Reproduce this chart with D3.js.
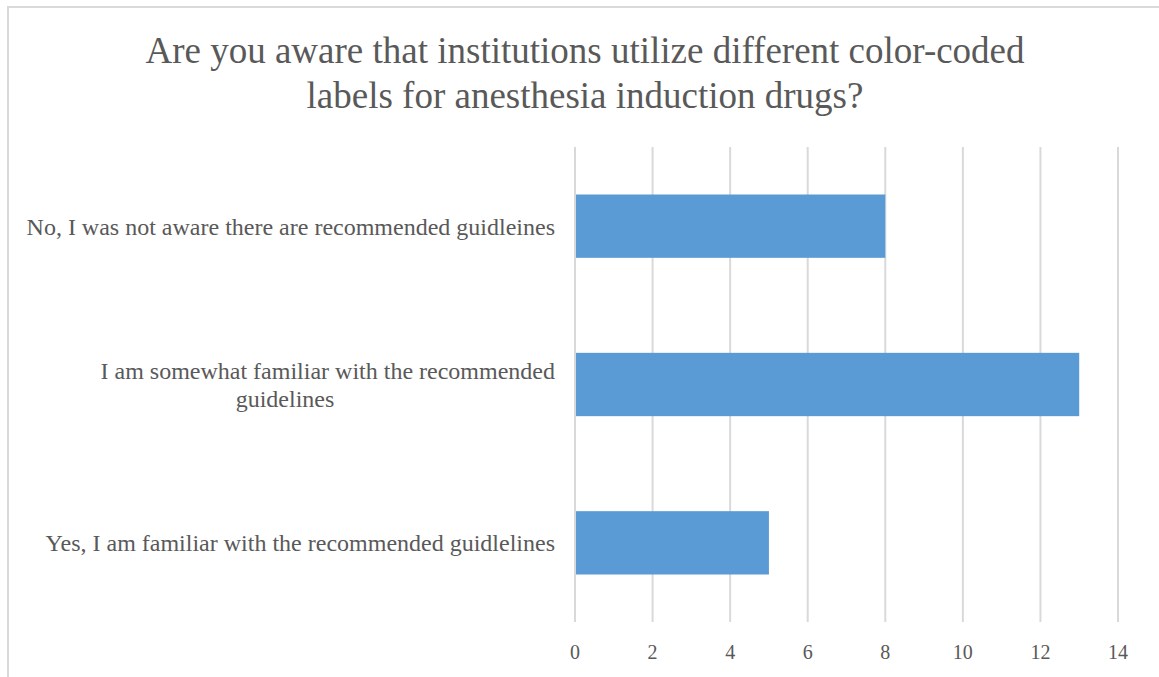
<!DOCTYPE html>
<html>
<head>
<meta charset="utf-8">
<script src="https://cdn.jsdelivr.net/npm/d3@7"></script>
<style>
  html, body { margin: 0; padding: 0; background: #fff; }
  svg { display: block; font-family: "Liberation Serif", "Times New Roman", serif; }
  .title { font-size: 37px; fill: #595959; }
  .cat { font-size: 24px; fill: #595959; }
  .tick-label { font-size: 20px; fill: #595959; }
</style>
</head>
<body>
<svg id="chart" width="1159" height="677"></svg>
<script>
(function () {
  "use strict";

  const titleLines = [
    "Are you aware that institutions utilize different color-coded",
    "labels for anesthesia induction drugs?"
  ];
  const categories = [
    ["No, I was not aware there are recommended guidleines"],
    ["I am somewhat familiar with the recommended", "guidelines"],
    ["Yes, I am familiar with the recommended guidlelines"]
  ];
  const values = [8, 13, 5];
  const tickValues = [0, 2, 4, 6, 8, 10, 12, 14];

  const svg = d3.select("#chart");
  const margin = { top: 147, left: 575, right: 41, bottom: 55 };
  const outerWidth = 1159;
  const outerHeight = 677;
  const width = outerWidth - margin.left - margin.right;
  const height = outerHeight - margin.top - margin.bottom;

  // chart frame (right and bottom edges fall outside the picture)
  svg.append("rect")
    .attr("x", 8).attr("y", 7)
    .attr("width", 1200).attr("height", 700)
    .attr("fill", "none")
    .attr("stroke", "#d9d9d9")
    .attr("stroke-width", 2);

  svg.append("text")
    .attr("class", "title")
    .attr("text-anchor", "middle")
    .selectAll("tspan")
    .data(titleLines)
    .join("tspan")
    .attr("x", 585)
    .attr("y", (d, i) => 63 + i * 45)
    .text(d => d);

  const chart = svg.append("g").attr("transform", `translate(${margin.left},${margin.top})`);

  const x = d3.scaleLinear().domain([0, 14]).range([0, width]);
  const y = d3.scaleBand()
    .domain(categories.map((d, i) => i))
    .range([0, height])
    .paddingInner(0)
    .paddingOuter(0);
  const barH = y.bandwidth() * 0.4;

  chart.append("g")
    .selectAll("line")
    .data(tickValues)
    .join("line")
    .attr("x1", d => x(d)).attr("x2", d => x(d))
    .attr("y1", 0).attr("y2", height)
    .attr("stroke", "#d9d9d9")
    .attr("stroke-width", 2);

  chart.append("g")
    .selectAll("text")
    .data(tickValues)
    .join("text")
    .attr("class", "tick-label")
    .attr("x", d => x(d))
    .attr("y", height + 30)
    .attr("dy", "0.35em")
    .attr("text-anchor", "middle")
    .text(d => d);

  chart.append("g")
    .selectAll("rect")
    .data(values)
    .join("rect")
    .attr("x", x(0) + 1)
    .attr("y", (d, i) => y(i) + (y.bandwidth() - barH) / 2)
    .attr("width", d => x(d) - x(0) - 1)
    .attr("height", barH)
    .attr("fill", "#5b9bd5");

  // category labels: first line right-aligned, wrapped lines centred in the label area
  const labelRight = -20;
  const labelLeft = 15 - margin.left;
  const lineH = 28;
  categories.forEach((lines, i) => {
    const cy = y(i) + y.bandwidth() / 2;
    const top = cy - (lines.length - 1) * lineH / 2;
    const t = chart.append("text").attr("class", "cat");
    t.selectAll("tspan")
      .data(lines)
      .join("tspan")
      .attr("x", (d, j) => j === 0 ? labelRight : (labelLeft + labelRight) / 2)
      .attr("y", (d, j) => top + j * lineH)
      .attr("dy", "0.35em")
      .attr("text-anchor", (d, j) => j === 0 ? "end" : "middle")
      .text(d => d);
  });
})();
</script>
</body>
</html>
